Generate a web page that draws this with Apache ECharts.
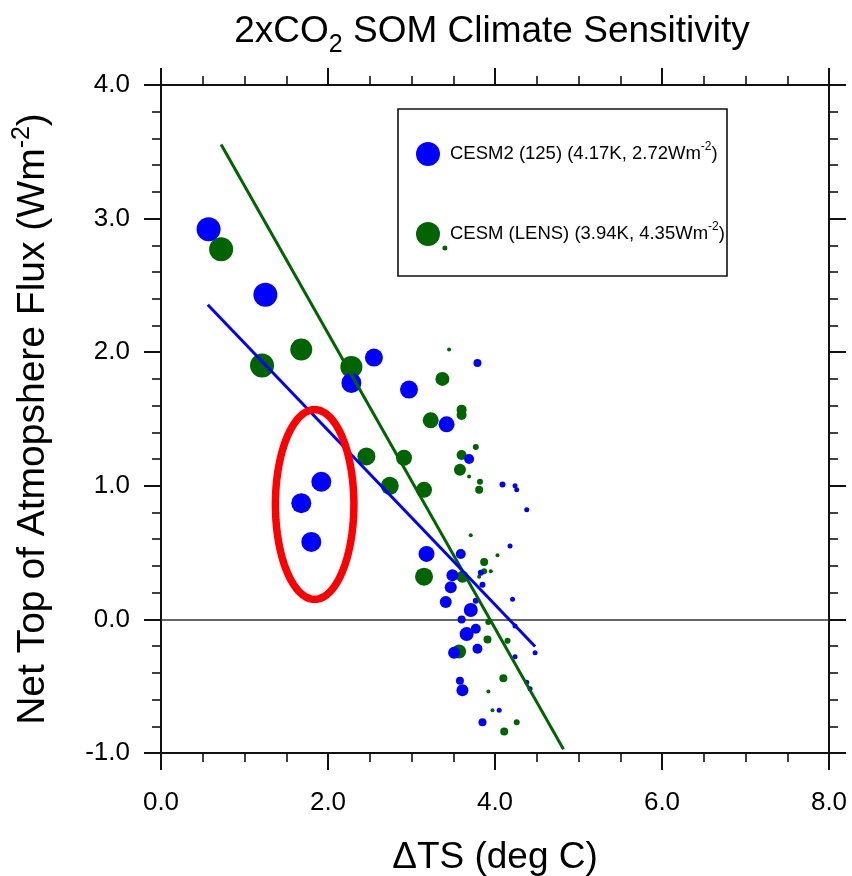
<!DOCTYPE html>
<html><head><meta charset="utf-8">
<script src="https://cdn.jsdelivr.net/npm/echarts@6/dist/echarts.min.js"></script>
<style>html,body{margin:0;padding:0;background:#fff}#c{width:852px;height:876px}</style>
</head><body><div id="c"></div>
<script>
// ---------- data ----------
const xTickLabels = ['0.0','2.0','4.0','6.0','8.0'];
const yTickLabels = ['-1.0','0.0','1.0','2.0','3.0','4.0'];

// CESM2 (125) : dTS, net TOA flux, marker weight
const cesm2_dTS  = [0.57,1.25,2.55,2.28,2.97,3.42,3.79,1.92,1.68,1.80,3.69,4.09,4.24,4.26,4.38,4.18,3.18,3.59,3.83,3.49,3.47,3.85,3.41,4.21,3.77,3.71,3.60,4.24,3.77,3.66,3.79,3.51,4.48,4.24,3.58,4.38,4.42,3.61,4.05,3.85];
const cesm2_flux = [2.92,2.43,1.96,1.77,1.72,1.46,1.92,1.03,0.87,0.58,1.20,1.01,1.00,0.97,0.82,0.55,0.49,0.49,0.35,0.33,0.24,0.26,0.13,0.15,0.14,0.07,0.00,-0.05,-0.07,-0.11,-0.22,-0.25,-0.25,-0.28,-0.46,-0.47,-0.52,-0.53,-0.68,-0.77];
const cesm2_wt   = [12,12,9,10,9,8,4,10,10,10,5,3,2.5,2.5,2.5,2.5,8,5,3,6,6,3,6,2.5,3,7,4,2.5,5,7,5,6,2.5,2.5,4,2.5,2.5,6,2.5,4];

// CESM (LENS)
const lens_dTS  = [0.72,1.21,1.68,2.28,3.37,3.45,3.23,3.60,3.60,2.46,2.91,2.74,3.15,3.60,3.58,3.77,3.69,3.82,3.81,3.71,4.03,3.87,3.87,3.95,3.81,3.15,3.61,3.92,3.91,4.15,3.57,4.10,3.92,3.97,4.26,4.11,3.40];
const lens_flux = [2.77,1.90,2.02,1.89,1.80,2.02,1.49,1.57,1.53,1.22,1.21,1.00,0.97,1.23,1.12,1.29,1.07,1.03,0.97,0.63,0.48,0.43,0.36,0.36,0.32,0.32,0.32,-0.02,-0.15,-0.16,-0.24,-0.44,-0.54,-0.68,-0.77,-0.84,2.78];
const lens_wt   = [12,12,11,11,7,2,8,5,5,9,8,9,8,5,6,3,2,3,4,2,2,4,3,2,2,9,6,3,4,3,7,4,2,2,3,4,2.5];

// Regression fits: climate sensitivity (K), forcing (W m-2), fitted dTS range
const fitNames   = ['CESM2 (125)', 'CESM (LENS)'];
const fitECS     = [4.17, 3.94];
const fitForcing = [2.72, 4.35];
const fitXStart  = [0.56, 0.72];
const fitXEnd    = [4.48, 4.82];

// Highlight ellipse (data units): centre x, centre y, radius x, radius y
const ellipse = [1.84, 0.86, 0.47, 0.71];

// ---------- chart ----------
const FONT = '"Liberation Sans", Arial, Helvetica, sans-serif';
const BLUE = '#0000ff', GREEN = '#006400';
const chart = echarts.init(document.getElementById('c'), null, {renderer:'canvas'});

function pts(xs, ys, ws){ return xs.map((x,i)=>[x, ys[i], ws[i]]); }
function fitLine(i){
  const f = x => fitForcing[i]*(1 - x/fitECS[i]);
  return [[fitXStart[i], f(fitXStart[i])],[fitXEnd[i], f(fitXEnd[i])]];
}
function legendText(i){
  return fitNames[i] + ' (' + fitECS[i].toFixed(2) + 'K, ' + fitForcing[i].toFixed(2) + 'Wm{sup|-2})';
}

const axisCommon = {
  axisLine:{show:true, onZero:false, lineStyle:{color:'#111', width:2}},
  axisTick:{show:true, inside:false, length:17, lineStyle:{color:'#111', width:2}},
  minorTick:{show:true, length:9, lineStyle:{color:'#111', width:1.6}},
  splitLine:{show:false}, minorSplitLine:{show:false}
};
const xLab = v => xTickLabels[Math.round(v/2)];
const yLab = v => yTickLabels[Math.round(v+1)];

chart.setOption({
  animation:false,
  backgroundColor:'#fff',
  textStyle:{fontFamily:FONT},
  grid:{left:161, top:85, width:668, height:668, containLabel:false, outerBoundsMode:'none'},
  xAxis:[
    Object.assign({type:'value', position:'bottom', min:0, max:8, interval:2,
      axisLabel:{formatter:xLab, fontSize:26, color:'#000', margin:37, fontFamily:FONT},
      name:'\u0394TS (deg C)', nameLocation:'middle', nameGap:86,
      nameTextStyle:{fontSize:37, color:'#000', fontFamily:FONT}}, axisCommon,
      {minorTick:Object.assign({}, axisCommon.minorTick, {splitNumber:4})}),
    Object.assign({type:'value', position:'top', min:0, max:8, interval:2,
      axisLabel:{show:false}}, axisCommon,
      {minorTick:Object.assign({}, axisCommon.minorTick, {splitNumber:4})})
  ],
  yAxis:[
    Object.assign({type:'value', position:'left', min:-1, max:4, interval:1,
      axisLabel:{formatter:yLab, fontSize:26, color:'#000', margin:31, fontFamily:FONT},
      name:'Net Top of Atmopshere Flux (Wm{sup|-2})', nameLocation:'middle', nameGap:105, nameRotate:90,
      nameTextStyle:{fontSize:39, color:'#000', fontFamily:FONT,
        rich:{sup:{fontSize:25, verticalAlign:'top', lineHeight:46, fontFamily:FONT, color:'#000'}}}}, axisCommon,
      {minorTick:Object.assign({}, axisCommon.minorTick, {splitNumber:5})}),
    Object.assign({type:'value', position:'right', min:-1, max:4, interval:1,
      axisLabel:{show:false}}, axisCommon,
      {minorTick:Object.assign({}, axisCommon.minorTick, {splitNumber:5})})
  ],
  legend:{
    data:[fitNames[0], fitNames[1]],
    orient:'vertical', left:416, top:141, padding:0,
    itemWidth:24, itemHeight:24, itemGap:55, icon:'circle',
    formatter:name => legendText(fitNames.indexOf(name)),
    textStyle:{fontSize:18.5, color:'#000', fontFamily:FONT, padding:[0,0,0,5],
      rich:{sup:{fontSize:12, verticalAlign:'top', lineHeight:26, fontFamily:FONT, color:'#000'}}}
  },
  graphic:[
    {type:'rect', shape:{x:398, y:109, width:329, height:167}, style:{fill:'none', stroke:'#111', lineWidth:1.6}, z:10},
    {type:'text', x:492, y:6, style:{text:'2xCO{sub|2} SOM Climate Sensitivity', textAlign:'center',
      font:'37px '+FONT, fill:'#000', fontSize:37, fontFamily:FONT,
      rich:{sub:{fontSize:25, verticalAlign:'bottom', lineHeight:52, fontFamily:FONT, fill:'#000'}}}}
  ],
  series:[
    {name:fitNames[1], type:'scatter', xAxisIndex:0, yAxisIndex:0,
      data:pts(lens_dTS, lens_flux, lens_wt), symbolSize:v=>v[2]*2,
      itemStyle:{color:GREEN, opacity:1}, z:3},
    {name:fitNames[0], type:'scatter', xAxisIndex:0, yAxisIndex:0,
      data:pts(cesm2_dTS, cesm2_flux, cesm2_wt), symbolSize:v=>v[2]*2,
      itemStyle:{color:BLUE, opacity:1}, z:3,
      markLine:{silent:true, symbol:['none','none'], label:{show:false},
        lineStyle:{color:'#333', width:1.5, type:'solid'}, data:[{yAxis:0}], z:2}},
    {name:'fitLENS', type:'line', data:fitLine(1), symbol:'none',
      lineStyle:{color:GREEN, width:3}, z:4},
    {name:'fitCESM2', type:'line', data:fitLine(0), symbol:'none',
      lineStyle:{color:BLUE, width:3}, z:4},
    {name:'highlight', type:'custom', data:[ellipse], z:6, silent:true,
      renderItem:(params, api)=>{
        const c = api.coord([api.value(0), api.value(1)]);
        const s = api.size([api.value(2), api.value(3)]);
        const p = [];
        for(let k=0;k<120;k++){const t=k/120*2*Math.PI; p.push([c[0]+s[0]*Math.cos(t), c[1]+s[1]*Math.sin(t)]);}
        return {type:'polygon', shape:{points:p}, style:{fill:'none', stroke:'#ff0000', lineWidth:7.5}};
      }}
  ]
});
</script></body></html>
